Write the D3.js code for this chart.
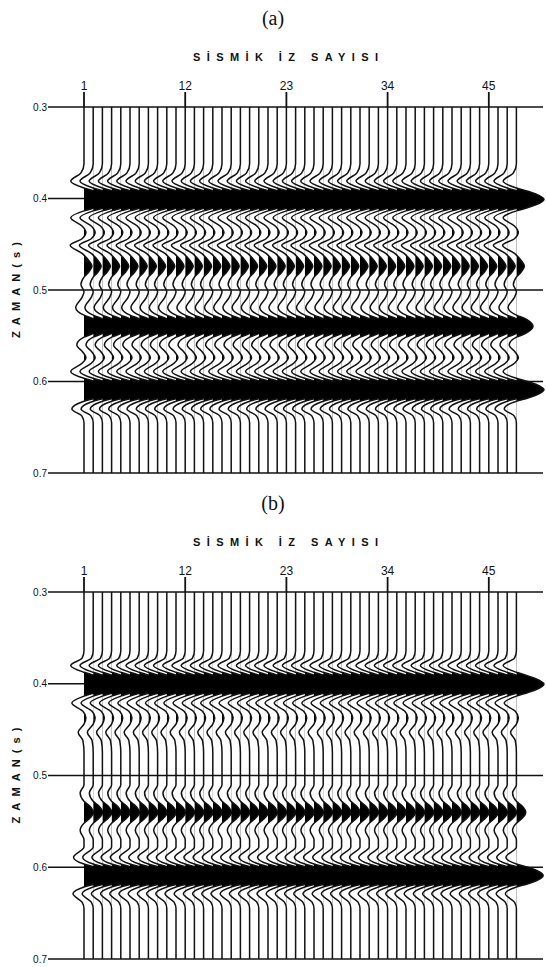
<!DOCTYPE html>
<html>
<head>
<meta charset="utf-8">
<script src="https://cdn.jsdelivr.net/npm/d3@7/dist/d3.min.js"></script>
<style>
  body { margin: 0; background: #fff; }
  text { font-family: "Liberation Sans", Arial, sans-serif; fill: #111; }
  .title { font-family: "Liberation Serif", "Times New Roman", serif; font-size: 20px; }
  .axis-title { font-size: 11px; font-weight: bold; }
  .tick-label { font-size: 12px; }
  .time-label { font-size: 10px; }
</style>
</head>
<body>
<svg id="chart" width="546" height="967"></svg>
<script>
// trace numbering and ticks
const traceCount = 48;
const traceTicks = [1, 12, 23, 34, 45];
const timeTicks = [0.3, 0.4, 0.5, 0.6, 0.7];
const panelTitles = ['(a)', '(b)'];

// trace (a): time (s) and amplitude (1 = biggest peak)
const timesA = [0.300, 0.362, 0.372, 0.381, 0.3885, 0.392, 0.395, 0.401, 0.407, 0.410, 0.4135,
  0.421, 0.430, 0.437, 0.444, 0.451, 0.460, 0.468, 0.474, 0.480, 0.486, 0.494, 0.502,
  0.508, 0.519, 0.5275, 0.531, 0.534, 0.5395, 0.545, 0.548, 0.5515, 0.560, 0.568, 0.574,
  0.580, 0.589, 0.5965, 0.600, 0.603, 0.609, 0.615, 0.618, 0.6215, 0.630, 0.638, 0.645, 0.700];
const ampsA = [0, 0, -0.11, -0.48, 0, 0.42, 0.7, 1, 0.7, 0.42, 0,
  -0.48, -0.07, 0.07, -0.07, -0.5, -0.07, 0.18, 0.29, 0.18, 0, -0.11, 0,
  -0.07, -0.3, 0, 0.3, 0.46, 0.6, 0.46, 0.3, 0, -0.26, -0.04, 0.07,
  -0.07, -0.48, 0, 0.42, 0.7, 1, 0.7, 0.42, 0, -0.44, -0.07, 0, 0];

// trace (b)
const timesB = [0.300, 0.364, 0.372, 0.380, 0.3875, 0.3915, 0.3945, 0.4005, 0.4065, 0.4095, 0.4135,
  0.421, 0.430, 0.437, 0.444, 0.453, 0.462, 0.475, 0.510, 0.519, 0.528, 0.532, 0.535,
  0.540, 0.545, 0.548, 0.552, 0.560, 0.570, 0.578, 0.589, 0.5965, 0.600, 0.603, 0.609,
  0.615, 0.618, 0.6215, 0.629, 0.638, 0.645, 0.700];
const ampsB = [0, 0, -0.07, -0.48, 0, 0.42, 0.7, 1, 0.7, 0.42, 0,
  -0.44, -0.04, 0.07, 0, -0.21, -0.04, 0, 0, -0.14, 0, 0.16, 0.26,
  0.34, 0.26, 0.16, 0, -0.14, 0, 0, -0.38, 0, 0.42, 0.7, 0.97,
  0.7, 0.42, 0, -0.4, -0.07, 0, 0];

const svg = d3.select('#chart');

const panels = [
  { title: panelTitles[0], times: timesA, amps: ampsA, top: 107, height: 366 },
  { title: panelTitles[1], times: timesB, amps: ampsB, top: 592, height: 367 }
];

const x = d3.scaleLinear().domain([1, traceCount]).range([84, 516.4]);
const spacing = x(2) - x(1);
const amp = d3.scaleLinear().domain([0, 1]).range([0, 3 * spacing]);

svg.append('defs').append('clipPath')
    .attr('id', 'positive')
  .append('rect')
    .attr('x', 0).attr('y', -50)
    .attr('width', 200).attr('height', 1000);

panels.forEach((p, pi) => {
  const g = svg.append('g').attr('transform', 'translate(0,' + p.top + ')');
  const y = d3.scaleLinear().domain([0.3, 0.7]).range([0, p.height]);

  g.append('text')
      .attr('class', 'title')
      .attr('x', 273).attr('y', -82)
      .attr('text-anchor', 'middle')
      .text(p.title);

  g.append('text')
      .attr('class', 'axis-title')
      .attr('x', 193).attr('y', -46)
      .attr('textLength', 185)
      .attr('lengthAdjust', 'spacing')
      .text('SİSMİK İZ SAYISI');

  g.append('text')
      .attr('class', 'axis-title')
      .attr('transform', 'translate(20,' + (p.height / 2 + 48) + ') rotate(-90)')
      .attr('textLength', 96)
      .attr('lengthAdjust', 'spacing')
      .text('ZAMAN(s)');

  // trace number ticks
  g.selectAll('.tick-label')
    .data(traceTicks)
    .enter().append('text')
      .attr('class', 'tick-label')
      .attr('x', d => x(d))
      .attr('y', -17)
      .attr('text-anchor', 'middle')
      .text(d => d);

  g.selectAll('.tick-mark')
    .data(traceTicks)
    .enter().append('line')
      .attr('class', 'tick-mark')
      .attr('x1', d => x(d)).attr('x2', d => x(d))
      .attr('y1', -15).attr('y2', 0)
      .attr('stroke', '#111').attr('stroke-width', 1.8);

  // time lines
  g.selectAll('.time-line')
    .data(timeTicks)
    .enter().append('line')
      .attr('class', 'time-line')
      .attr('x1', 48).attr('x2', 543)
      .attr('y1', d => y(d)).attr('y2', d => y(d))
      .attr('stroke', '#111').attr('stroke-width', 1.4);

  g.selectAll('.time-label')
    .data(timeTicks)
    .enter().append('text')
      .attr('class', 'time-label')
      .attr('x', 47)
      .attr('y', d => y(d))
      .attr('dy', '0.35em')
      .attr('text-anchor', 'end')
      .text(d => d.toFixed(1));

  const pts = p.times.map((t, i) => [t, p.amps[i]]);

  const area = d3.area()
      .y(d => y(d[0]))
      .x0(0)
      .x1(d => amp(d[1]))
      .curve(d3.curveMonotoneY);

  const line = d3.line()
      .y(d => y(d[0]))
      .x(d => amp(d[1]))
      .curve(d3.curveMonotoneY);

  const traces = g.selectAll('.trace')
    .data(d3.range(1, traceCount + 1))
    .enter().append('g')
      .attr('class', 'trace')
      .attr('transform', d => 'translate(' + x(d) + ',0)');

  traces.append('path')
      .attr('d', area(pts))
      .attr('clip-path', 'url(#positive)')
      .attr('fill', '#000');

  traces.append('path')
      .attr('d', line(pts))
      .attr('fill', 'none')
      .attr('stroke', '#111')
      .attr('stroke-width', 1.5);
});
</script>
</body>
</html>
